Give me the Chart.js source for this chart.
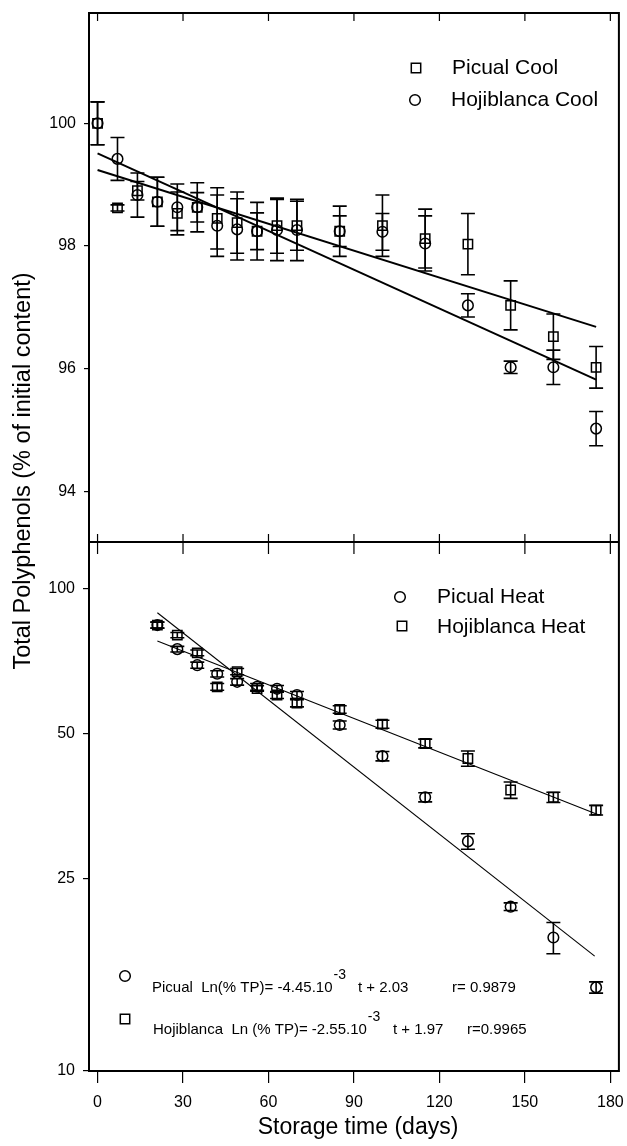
<!DOCTYPE html>
<html>
<head>
<meta charset="utf-8">
<script src="https://cdn.jsdelivr.net/npm/chart.js@4.4.1/dist/chart.umd.min.js"></script>
<style>
  html, body { margin: 0; padding: 0; background: #fff; }
  canvas { display: block; }
</style>
</head>
<body>
<canvas id="chart" width="627" height="1146"></canvas>
<script>
// storage days
var days = [0, 7, 14, 21, 28, 35, 42, 49, 56, 63, 70, 85, 100, 115, 130, 145, 160, 175];
var heatDays = [21, 28, 35, 42, 49, 56, 63, 70, 85, 100, 115, 130, 145, 160, 175];

// cool storage (% of initial content)
var picualCool = [100.0, 98.62, 98.9, 98.72, 98.53, 98.63, 98.45, 98.38, 98.24, 98.33, 98.33, 98.24, 98.33, 98.12, 98.03, 97.03, 96.52, 96.02];
var picualCoolErr = [0.35, 0.05, 0.15, 0.4, 0.35, 0.24, 0.5, 0.5, 0.47, 0.45, 0.4, 0.41, 0.5, 0.48, 0.5, 0.4, 0.37, 0.34];
var hojiCool = [100.0, 99.42, 98.83, 98.72, 98.63, 98.63, 98.33, 98.27, 98.24, 98.26, 98.26, 98.24, 98.23, 98.04, 97.03, 96.02, 96.02, 95.02];
var hojiCoolErr = [0.35, 0.35, 0.36, 0.4, 0.38, 0.4, 0.5, 0.5, 0.3, 0.5, 0.5, 0.25, 0.3, 0.45, 0.19, 0.1, 0.28, 0.28];

// heat storage
var picualHeat = [83.9, 74.8, 69.3, 66.5, 64.0, 62.5, 61.9, 60.1, 52.1, 44.9, 36.9, 29.9, 21.9, 18.9, 14.9];
var picualHeatErr = [1.2, 1.0, 1.0, 1.0, 1.0, 1.0, 1.0, 1.0, 1.0, 1.0, 0.8, 1.1, 0.4, 1.4, 0.4];
var hojiHeat = [83.9, 80.0, 73.5, 62.5, 67.2, 62.0, 60.1, 57.8, 56.1, 52.3, 47.7, 44.4, 38.2, 36.9, 34.7];
var hojiHeatErr = [1.2, 1.0, 1.0, 1.0, 1.0, 0.8, 1.0, 1.0, 1.0, 1.0, 1.0, 1.6, 1.5, 0.9, 0.8];

// regression lines (end points)
var coolFitDays = [0, 175];
var picualCoolFit = [99.24, 96.68];
var hojiCoolFit = [99.51, 95.82];
var picualHeatFitDays = [21, 174.5];
var picualHeatFit = [89, 17.3];
var hojiHeatFitDays = [21, 176];
var hojiHeatFit = [77.8, 33.9];

// ticks
var xTicks = [0, 30, 60, 90, 120, 150, 180];
var coolTicks = [94, 96, 98, 100];
var heatTicks = [10, 25, 50, 100];

var FONT = "'Liberation Sans', Arial, Helvetica, sans-serif";
Chart.defaults.font.family = FONT;
Chart.defaults.color = '#000';

function pts(xs, ys) {
    return xs.map(function(x, i) { return {x: x, y: ys[i]}; });
}

function marks(label, xs, ys, errs, style, axis) {
    return {
        label: label,
        data: pts(xs, ys),
        errors: errs,
        yAxisID: axis,
        pointStyle: style,
        pointRadius: style == 'rect' ? 6.6 : 5.3,
        pointBorderWidth: 1.5,
        borderColor: '#000',
        backgroundColor: 'rgba(0,0,0,0)',
        showLine: false
    };
}

function fit(xs, ys, axis, w) {
    return {
        data: pts(xs, ys),
        yAxisID: axis,
        showLine: true,
        borderColor: '#000',
        borderWidth: w,
        pointRadius: 0,
        fill: false
    };
}

// no extra room for the edge labels, the frame is fixed
function noPad(s) {
    s.paddingLeft = 0; s.paddingRight = 0;
    s.paddingTop = 0; s.paddingBottom = 0;
}

// error bars drawn from the scales
var errorBars = {
    id: 'errorBars',
    afterDatasetsDraw: function(chart) {
        var ctx = chart.ctx;
        ctx.save();
        ctx.strokeStyle = '#000';
        ctx.lineWidth = 1.6;
        chart.data.datasets.forEach(function(ds) {
            if (!ds.errors) return;
            var ys = chart.scales[ds.yAxisID];
            ds.data.forEach(function(p, i) {
                var e = ds.errors[i];
                var px = chart.scales.x.getPixelForValue(p.x);
                var top = ys.getPixelForValue(p.y + e);
                var bot = ys.getPixelForValue(p.y - e);
                ctx.beginPath();
                ctx.moveTo(px, top); ctx.lineTo(px, bot);
                ctx.moveTo(px - 7, top); ctx.lineTo(px + 7, top);
                ctx.moveTo(px - 7, bot); ctx.lineTo(px + 7, bot);
                ctx.stroke();
            });
        });
        ctx.restore();
    }
};

function sym(ctx, style, x, y) {
    ctx.beginPath();
    if (style == 'rect') ctx.rect(x - 4.7, y - 4.7, 9.4, 9.4);
    else ctx.arc(x, y, 5.3, 0, Math.PI * 2);
    ctx.stroke();
}

// frame, inner ticks, titles, legends and equations
var decor = {
    id: 'decor',
    afterDraw: function(chart) {
        var ctx = chart.ctx, a = chart.chartArea;
        var x = chart.scales.x, yHeat = chart.scales.yHeat;
        ctx.save();
        ctx.strokeStyle = '#000';
        ctx.lineWidth = 2;
        ctx.strokeRect(a.left, a.top, a.right - a.left, a.bottom - a.top);
        ctx.beginPath();
        ctx.moveTo(a.left, yHeat.top); ctx.lineTo(a.right, yHeat.top);
        ctx.stroke();
        ctx.lineWidth = 1.2;
        ctx.beginPath();
        xTicks.forEach(function(v) {
            var px = x.getPixelForValue(v);
            ctx.moveTo(px, a.top); ctx.lineTo(px, a.top + 8);
            ctx.moveTo(px, yHeat.top - 8); ctx.lineTo(px, yHeat.top + 12);
        });
        ctx.stroke();

        ctx.fillStyle = '#000';
        ctx.textBaseline = 'middle';

        // axis titles
        ctx.font = '23px ' + FONT;
        ctx.textAlign = 'center';
        ctx.fillText('Storage time (days)', 358, 1128);
        ctx.save();
        ctx.translate(24, 471);
        ctx.rotate(-Math.PI / 2);
        ctx.font = '23.5px ' + FONT;
        ctx.fillText('Total Polyphenols (% of initial content)', 0, 0);
        ctx.restore();

        // legends
        ctx.textAlign = 'left';
        ctx.lineWidth = 1.5;
        ctx.font = '21px ' + FONT;
        sym(ctx, 'rect', 416, 68);
        ctx.fillText('Picual Cool', 452, 68);
        sym(ctx, 'circle', 415, 100);
        ctx.fillText('Hojiblanca Cool', 451, 100);
        sym(ctx, 'circle', 400, 597);
        ctx.fillText('Picual Heat', 437, 597);
        sym(ctx, 'rect', 402, 626);
        ctx.fillText('Hojiblanca Heat', 437, 627);

        // equations
        var lines = [
            {s: 'circle', my: 976, y: 988, x: 152, a: 'Picual  Ln(% TP)= -4.45.10', t: 't + 2.03', tx: 358, r: 'r= 0.9879', rx: 452},
            {s: 'rect', my: 1019, y: 1030, x: 153, a: 'Hojiblanca  Ln (% TP)= -2.55.10', t: 't + 1.97', tx: 393, r: 'r=0.9965', rx: 467}
        ];
        lines.forEach(function(l) {
            sym(ctx, l.s, 125, l.my);
            ctx.font = '15px ' + FONT;
            ctx.fillText(l.a, l.x, l.y);
            var w = ctx.measureText(l.a).width;
            ctx.fillText(l.t, l.tx, l.y);
            ctx.fillText(l.r, l.rx, l.y);
            ctx.font = '14px ' + FONT;
            ctx.fillText('-3', l.x + w + 1, l.y - 13);
        });
        ctx.restore();
    }
};

var tickFmt = function(v) { return String(v); };

new Chart(document.getElementById('chart'), {
    type: 'scatter',
    data: {
        datasets: [
            marks('Picual Cool', days, picualCool, picualCoolErr, 'rect', 'yCool'),
            marks('Hojiblanca Cool', days, hojiCool, hojiCoolErr, 'circle', 'yCool'),
            fit(coolFitDays, picualCoolFit, 'yCool', 2),
            fit(coolFitDays, hojiCoolFit, 'yCool', 2),
            marks('Picual Heat', heatDays, picualHeat, picualHeatErr, 'circle', 'yHeat'),
            marks('Hojiblanca Heat', heatDays, hojiHeat, hojiHeatErr, 'rect', 'yHeat'),
            fit(picualHeatFitDays, picualHeatFit, 'yHeat', 1.1),
            fit(hojiHeatFitDays, hojiHeatFit, 'yHeat', 1.1)
        ]
    },
    options: {
        responsive: false,
        devicePixelRatio: 1,
        animation: false,
        layout: { padding: { top: 13, right: 6, left: 0, bottom: 0 } },
        plugins: { legend: { display: false }, tooltip: { enabled: false } },
        scales: {
            x: {
                type: 'linear',
                min: -3,
                max: 183,
                afterBuildTicks: function(s) { s.ticks = xTicks.map(function(v) { return {value: v}; }); },
                afterFit: function(s) { s.height = 75; noPad(s); },
                grid: { drawOnChartArea: false, color: '#000', tickLength: 12, lineWidth: 1.2 },
                border: { color: '#000', width: 2 },
                ticks: { font: { size: 16 }, padding: 10, maxRotation: 0, callback: tickFmt }
            },
            yCool: {
                type: 'linear',
                position: 'left',
                stack: 'panels',
                stackWeight: 1,
                weight: 1,
                min: 93.17,
                max: 101.8,
                afterBuildTicks: function(s) { s.ticks = coolTicks.map(function(v) { return {value: v}; }); },
                afterFit: function(s) { s.width = 89; noPad(s); },
                grid: { drawOnChartArea: false, color: '#000', tickLength: 5, lineWidth: 1.2 },
                border: { color: '#000', width: 2 },
                ticks: { font: { size: 16 }, padding: 8, callback: tickFmt }
            },
            yHeat: {
                type: 'logarithmic',
                position: 'left',
                stack: 'panels',
                stackWeight: 1,
                weight: 0,
                min: 10,
                max: 124.7,
                afterBuildTicks: function(s) { s.ticks = heatTicks.map(function(v) { return {value: v}; }); },
                afterFit: function(s) { s.width = 89; noPad(s); },
                grid: { drawOnChartArea: false, color: '#000', tickLength: 6, lineWidth: 1.2 },
                border: { color: '#000', width: 2 },
                ticks: { font: { size: 16 }, padding: 8, callback: tickFmt }
            }
        }
    },
    plugins: [errorBars, decor]
});
</script>
</body>
</html>
